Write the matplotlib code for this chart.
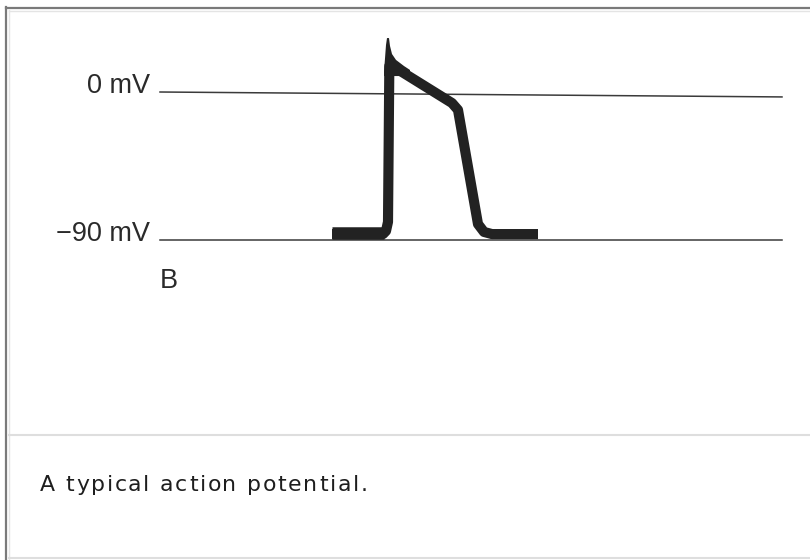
import matplotlib
matplotlib.use("Agg")
import matplotlib.pyplot as plt
from matplotlib.ft2font import FT2Font
from matplotlib.font_manager import findfont, FontProperties

# action potential trace (time in ms, membrane potential in mV)
t_ap = [-168, -15, -6, 0, 4, 18, 192, 210, 270, 288, 312, 450]
v_ap = [-86.4, -86.4, -84.5, -79, 15.8, 15.2, -6.7, -10.9, -80.3, -85.1, -86.4, -86.4]
# thicker resting bar before the upstroke
t_rest = [-168, -12]
v_rest = [-86.0, -86.0]
# overshoot spike
t_spike = [-12, -6, -3, 3, 6, 12, 24, 48, 66, 66, -12]
v_spike = [12.2, 28.6, 32.8, 32.8, 28.0, 23.1, 19.5, 15.8, 13.4, 9.7, 9.7]
# reference lines
t_ref = [-684, 1182]
v_zero = [0, -3]
v_rest_ref = [-90, -90]

labels = ["0 mV", "\u221290 mV"]
label_v = [-0.6, -90.6]
panel = "B"
caption = "A typical action potential."

fig = plt.figure(figsize=(8.1, 5.6), dpi=100)

# frame (pixel coords)
fr = fig.add_axes([0, 0, 1, 1])
fr.set_xlim(0, 810)
fr.set_ylim(560, 0)
fr.axis("off")
fr.plot([6, 6], [7, 560], color="#7a7a7a", lw=1.6)
fr.plot([6, 810], [8, 8], color="#7a7a7a", lw=1.6)
fr.plot([9, 9], [10, 560], color="#e4e4e4", lw=1.0)
fr.plot([9, 810], [10.5, 10.5], color="#e4e4e4", lw=1.0)
fr.plot([9, 810], [435, 435], color="#dedede", lw=1.5)
fr.plot([9, 810], [558, 558], color="#dedede", lw=1.5)

# caption with letter spacing
size = 15.8
font = FT2Font(findfont(FontProperties(family="DejaVu Sans")))
font.set_size(size, 100)
x = 40
for ch in caption:
    fr.text(x, 491, ch, fontsize=size, family="DejaVu Sans", color="#1e1e1e",
            ha="left", va="baseline")
    g = font.load_char(ord(ch))
    x += g.linearHoriAdvance / 65536 + 1.75

# diagram axes
ax = fig.add_axes([0, 0, 1, 1])
ax.set_xlim(-1164, 1266)
ax.set_ylim(-284.6, 55.95)
ax.axis("off")
ax.patch.set_alpha(0)

ax.plot(t_ref, v_zero, color="#3a3a3a", lw=1.1)
ax.plot(t_ref, v_rest_ref, color="#3a3a3a", lw=1.1)
ax.plot(t_rest, v_rest, color="#222222", lw=9.0, solid_capstyle="butt")
ax.plot(t_ap, v_ap, color="#222222", lw=7.3, solid_capstyle="butt",
        solid_joinstyle="round")
ax.fill(t_spike, v_spike, color="#222222", lw=0)

for lab, v in zip(labels, label_v):
    ax.text(-714, v, lab, fontsize=19.5, family="Liberation Sans", color="#2a2a2a",
            ha="right", va="baseline")
ax.text(-684, -119.2, panel, fontsize=19.5, family="Liberation Sans",
        color="#2a2a2a", ha="left", va="baseline")

fig.savefig("out.png", dpi=100)
